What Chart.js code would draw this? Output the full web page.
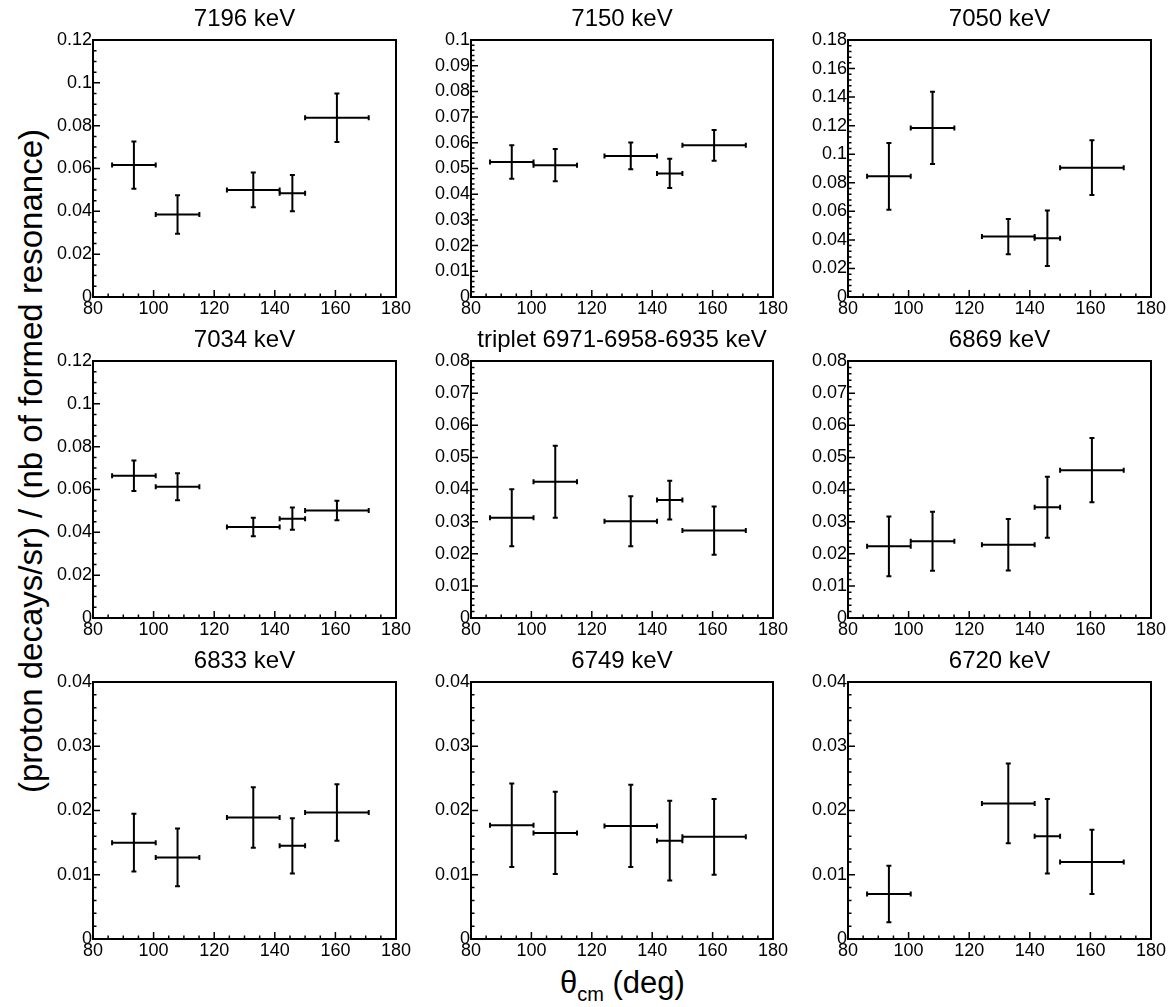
<!DOCTYPE html>
<html>
<head>
<meta charset="utf-8">
<script src="https://cdn.jsdelivr.net/npm/chart.js@4.4.1/dist/chart.umd.min.js"></script>
<style>
    html, body { margin: 0; padding: 0; background: #fff; }
    body { width: 1170px; height: 1007px; position: relative; overflow: hidden;
           font-family: 'Liberation Sans', Arial, sans-serif; color: #000; }
    canvas { position: absolute; }
    #ylabel { position: absolute; left: 30px; top: 461px; font-size: 33px; line-height: 1;
              white-space: nowrap; transform: translate(-50%, -50%) rotate(-90deg); }
    #xlabel { position: absolute; left: 560px; top: 967px; font-size: 31px; line-height: 1; white-space: nowrap; }
    #xlabel sub { font-size: 20px; line-height: 0; vertical-align: -8px; }
</style>
</head>
<body>
<div id="ylabel">(proton decays/sr) / (nb of formed resonance)</div>
<div id="xlabel">θ<sub>cm</sub> (deg)</div>

<script>
// angular bins (theta_cm, deg) and their half widths
const angle = [93.5, 107.9, 132.9, 145.8, 160.5];
const angleErr = [7.2, 7.2, 8.7, 4.2, 10.5];

const titles = ['7196 keV', '7150 keV', '7050 keV', '7034 keV', 'triplet 6971-6958-6935 keV',
                '6869 keV', '6833 keV', '6749 keV', '6720 keV'];

// y axis ranges
const yMax   = [0.12, 0.1, 0.18, 0.12, 0.08, 0.08, 0.04, 0.04, 0.04];
const yStep  = [0.02, 0.01, 0.02, 0.02, 0.01, 0.01, 0.01, 0.01, 0.01];
const yMinor = [0.005, 0.002, 0.004, 0.005, 0.002, 0.002, 0.002, 0.002, 0.002];

// ratio values and their errors for each resonance
const r7196 = [0.0616, 0.0385, 0.0500, 0.0485, 0.0837];
const e7196 = [0.0110, 0.0090, 0.0081, 0.0085, 0.0113];
const r7150 = [0.0525, 0.0513, 0.0549, 0.0481, 0.0590];
const e7150 = [0.0065, 0.0063, 0.0052, 0.0057, 0.0060];
const r7050 = [0.0845, 0.1184, 0.0423, 0.0411, 0.0906];
const e7050 = [0.0234, 0.0253, 0.0123, 0.0194, 0.0192];
const r7034 = [0.0664, 0.0613, 0.0425, 0.0464, 0.0502];
const e7034 = [0.0071, 0.0063, 0.0043, 0.0052, 0.0045];
const rTriplet = [0.0312, 0.0424, 0.0301, 0.0367, 0.0272];
const eTriplet = [0.0089, 0.0112, 0.0078, 0.0060, 0.0075];
const r6869 = [0.0223, 0.0239, 0.0228, 0.0345, 0.0460];
const e6869 = [0.0093, 0.0092, 0.0080, 0.0095, 0.0100];
const r6833 = [0.0150, 0.0127, 0.0189, 0.0145, 0.0197];
const e6833 = [0.0045, 0.0045, 0.0047, 0.0043, 0.0044];
const r6749 = [0.0177, 0.0165, 0.0176, 0.0153, 0.0159];
const e6749 = [0.0065, 0.0064, 0.0064, 0.0062, 0.0059];
const r6720 = [0.0070, null, 0.0211, 0.0160, 0.0120];
const e6720 = [0.0044, null, 0.0062, 0.0058, 0.0050];

const values = [r7196, r7150, r7050, r7034, rTriplet, r6869, r6833, r6749, r6720];
const errors = [e7196, e7150, e7050, e7034, eTriplet, e6869, e6833, e6749, e6720];

// frame positions of the 3x3 grid (pixels)
const colLeft = [93, 471, 848];
const colRight = [396, 773, 1151];
const rowTop = [40, 361, 682];
const rowBottom = [297, 618, 939];
const padLeft = 70, padRight = 24, padTop = 40, padBottom = 30;

Chart.defaults.font.family = "'Liberation Sans', Arial, sans-serif";
Chart.defaults.color = '#000';

// ROOT-like look: frame, inward ticks and x/y error bars
const rootStyle = {
    id: 'rootStyle',
    afterDatasetsDraw(chart, args, opts) {
        const { ctx, chartArea: a, scales: { x, y } } = chart;
        ctx.save();
        ctx.strokeStyle = '#000';
        ctx.lineCap = 'butt';

        // ticks
        ctx.lineWidth = 1.5;
        ctx.beginPath();
        for (let v = x.min; v <= x.max + 1e-9; v += 5) {
            const px = x.getPixelForValue(v);
            const len = (v % 20 === 0) ? 7 : 3.5;
            ctx.moveTo(px, a.bottom);
            ctx.lineTo(px, a.bottom - len);
        }
        const n = Math.round((y.max - y.min) / opts.minor);
        for (let k = 0; k <= n; k++) {
            const v = y.min + k * opts.minor;
            const r = v / opts.major;
            const len = Math.abs(r - Math.round(r)) < 1e-6 ? 7 : 3.5;
            const py = y.getPixelForValue(v);
            ctx.moveTo(a.left, py);
            ctx.lineTo(a.left + len, py);
        }
        ctx.stroke();

        // error bars
        ctx.lineWidth = 2;
        const cap = 2.5;
        chart.data.datasets.forEach(ds => {
            ds.data.forEach((p, i) => {
                if (p.y === null) return;
                const ex = ds.xErr[i], ey = ds.yErr[i];
                const cx = x.getPixelForValue(p.x), cy = y.getPixelForValue(p.y);
                const x0 = x.getPixelForValue(p.x - ex), x1 = x.getPixelForValue(p.x + ex);
                const y0 = y.getPixelForValue(p.y - ey), y1 = y.getPixelForValue(p.y + ey);
                ctx.beginPath();
                ctx.moveTo(x0, cy); ctx.lineTo(x1, cy);
                ctx.moveTo(cx, y0); ctx.lineTo(cx, y1);
                ctx.moveTo(x0, cy - cap); ctx.lineTo(x0, cy + cap);
                ctx.moveTo(x1, cy - cap); ctx.lineTo(x1, cy + cap);
                ctx.moveTo(cx - cap, y0); ctx.lineTo(cx + cap, y0);
                ctx.moveTo(cx - cap, y1); ctx.lineTo(cx + cap, y1);
                ctx.stroke();
            });
        });

        // frame
        ctx.lineWidth = 2;
        ctx.strokeRect(a.left, a.top, a.right - a.left, a.bottom - a.top);
        ctx.restore();
    }
};

titles.forEach((title, i) => {
    const row = Math.floor(i / 3), col = i % 3;
    const w = colRight[col] - colLeft[col] + padLeft + padRight;
    const h = rowBottom[row] - rowTop[row] + padTop + padBottom;
    const canvas = document.createElement('canvas');
    canvas.width = w;
    canvas.height = h;
    canvas.style.left = (colLeft[col] - padLeft) + 'px';
    canvas.style.top = (rowTop[row] - padTop) + 'px';
    canvas.style.width = w + 'px';
    canvas.style.height = h + 'px';
    document.body.appendChild(canvas);

    new Chart(canvas, {
        type: 'scatter',
        data: {
            datasets: [{
                data: angle.map((a, k) => ({ x: a, y: values[i][k] })),
                xErr: angleErr,
                yErr: errors[i],
                pointRadius: 0,
                pointHoverRadius: 0,
                showLine: false
            }]
        },
        options: {
            responsive: false,
            animation: false,
            devicePixelRatio: 1,
            layout: { padding: { left: 0, right: padRight, top: 0, bottom: 0 } },
            scales: {
                x: {
                    type: 'linear',
                    min: 80,
                    max: 180,
                    grid: { display: false, drawTicks: false },
                    border: { display: false },
                    ticks: { stepSize: 20, padding: 1, maxRotation: 0, font: { size: 18 } },
                    afterFit: scale => { scale.height = padBottom; }
                },
                y: {
                    min: 0,
                    max: yMax[i],
                    grid: { display: false, drawTicks: false },
                    border: { display: false },
                    ticks: {
                        stepSize: yStep[i],
                        padding: 1,
                        font: { size: 18 },
                        callback: v => String(+v.toFixed(4))
                    },
                    afterFit: scale => { scale.width = padLeft; }
                }
            },
            plugins: {
                legend: { display: false },
                tooltip: { enabled: false },
                title: {
                    display: true,
                    text: title,
                    fullSize: false,
                    font: { size: 24, weight: 'normal' },
                    color: '#000',
                    padding: { top: 5, bottom: 6.2 }
                },
                rootStyle: { minor: yMinor[i], major: yStep[i] }
            }
        },
        plugins: [rootStyle]
    });
});
</script>
</body>
</html>
